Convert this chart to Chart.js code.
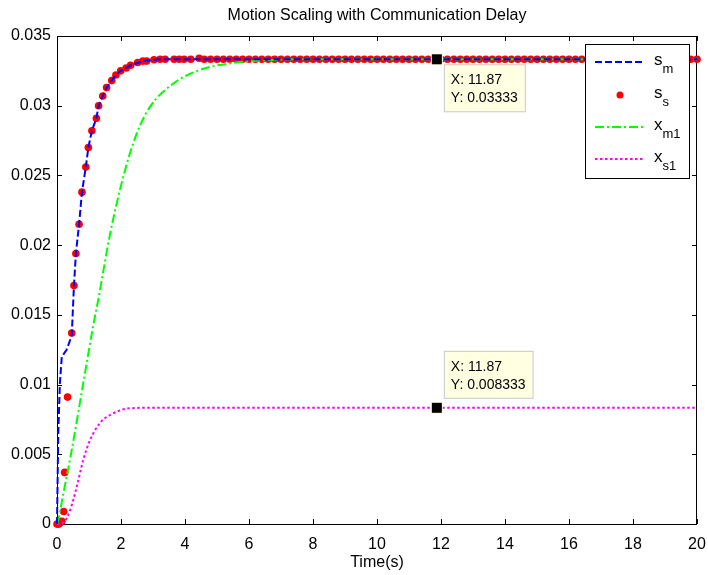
<!DOCTYPE html>
<html>
<head>
<meta charset="utf-8">
<script src="https://cdn.jsdelivr.net/npm/chart.js@4/dist/chart.umd.min.js"></script>
<style>
  html, body { margin: 0; padding: 0; background: #fff; }
  canvas { display: block; }
</style>
</head>
<body>
<canvas id="chart" width="708" height="575"></canvas>
<script>
const FONT = "'Liberation Sans', Arial, sans-serif";

// axis ticks
const xTicks = [0, 2, 4, 6, 8, 10, 12, 14, 16, 18, 20];
const yTicks = [0, 0.005, 0.01, 0.015, 0.02, 0.025, 0.03, 0.035];

// s_m (blue dashed)
const smTime = [0, 0.01, 0.04, 0.09, 0.15, 0.3, 0.46, 0.53, 0.59, 0.69, 0.78, 0.9, 0.98, 1.09, 1.23,
  1.3, 1.43, 1.55, 1.71, 1.84, 1.99, 2.3, 2.68, 3.2, 20];
const smValue = [0, 0.0017, 0.0065, 0.0101, 0.012, 0.0125, 0.0135, 0.0171, 0.0194, 0.0215, 0.0238, 0.0256, 0.027, 0.0282, 0.0291,
  0.03, 0.0307, 0.0313, 0.0318, 0.0322, 0.0325, 0.0329, 0.0332, 0.03333, 0.03333];

// s_s (red dots)
const ssTime = [0, 0.03, 0.06, 0.1, 0.15, 0.21, 0.24, 0.33, 0.46, 0.53, 0.59, 0.69, 0.78, 0.9, 0.98, 1.09,
  1.23, 1.3, 1.43, 1.55, 1.71, 1.84, 1.99, 2.16, 2.3, 2.52, 2.68, 2.8, 3.03, 3.22, 3.38, 3.66, 3.82, 3.97,
  4.18, 4.44,
  4.6, 4.8, 5.0, 5.2, 5.4, 5.6, 5.8, 6.0, 6.2, 6.4, 6.6, 6.8, 7.0,
  7.2, 7.4, 7.6, 7.8, 8.0, 8.2, 8.4, 8.6, 8.8, 9.0, 9.2, 9.4, 9.6,
  9.8, 10.0, 10.2, 10.4, 10.6, 10.8, 11.0, 11.2, 11.4, 11.6, 11.8, 12.0, 12.2,
  12.4, 12.6, 12.8, 13.0, 13.2, 13.4, 13.6, 13.8, 14.0, 14.2, 14.4, 14.6, 14.8,
  15.0, 15.2, 15.4, 15.6, 15.8, 16.0, 16.2, 16.4, 16.6, 16.8, 17.0, 17.2, 17.4,
  17.6, 17.8, 18.0, 18.2, 18.4, 18.6, 18.8, 19.0, 19.2, 19.4, 19.6, 19.8, 20.0];
const ssValue = [0, 0, 0, 0.0001, 0.0002, 0.0009, 0.0037, 0.0091, 0.0137, 0.0171, 0.0194, 0.0215, 0.0238, 0.0256, 0.027, 0.0282,
  0.0291, 0.03, 0.0307, 0.0313, 0.0318, 0.0322, 0.0325, 0.0327, 0.0329, 0.0331, 0.0332, 0.0332, 0.0333, 0.03333, 0.03333, 0.03333, 0.03333, 0.03333,
  0.03333, 0.0334,
  0.03333, 0.03333, 0.03333, 0.03333, 0.03333, 0.03333, 0.03333, 0.03333, 0.03333, 0.03333, 0.03333, 0.03333, 0.03333,
  0.03333, 0.03333, 0.03333, 0.03333, 0.03333, 0.03333, 0.03333, 0.03333, 0.03333, 0.03333, 0.03333, 0.03333, 0.03333,
  0.03333, 0.03333, 0.03333, 0.03333, 0.03333, 0.03333, 0.03333, 0.03333, 0.03333, 0.03333, 0.03333, 0.03333, 0.03333,
  0.03333, 0.03333, 0.03333, 0.03333, 0.03333, 0.03333, 0.03333, 0.03333, 0.03333, 0.03333, 0.03333, 0.03333, 0.03333,
  0.03333, 0.03333, 0.03333, 0.03333, 0.03333, 0.03333, 0.03333, 0.03333, 0.03333, 0.03333, 0.03333, 0.03333, 0.03333,
  0.03333, 0.03333, 0.03333, 0.03333, 0.03333, 0.03333, 0.03333, 0.03333, 0.03333, 0.03333, 0.03333, 0.03333, 0.03333];

// x_m1 (green dash-dot)
const xm1Time = [0, 0.04, 0.2, 0.46, 0.82, 1.13, 1.29, 1.65, 2.07, 2.49, 2.9, 3.64, 4.47, 5.61, 6.5, 7.6, 20];
const xm1Value = [0, 0.0003, 0.0022, 0.0053, 0.0101, 0.0142, 0.0161, 0.0207, 0.0249, 0.028, 0.0299, 0.0316, 0.03257, 0.0331, 0.03325, 0.03333, 0.03333];

// x_s1 (magenta dotted)
const xs1Time = [0, 0.2, 0.41, 0.62, 0.82, 1.03, 1.34, 1.76, 2.28, 2.9, 20];
const xs1Value = [0, 0.0001, 0.001, 0.0027, 0.0046, 0.006, 0.00724, 0.00794, 0.0083, 0.008333, 0.008333];

// data tips
const tipX = [11.87, 11.87];
const tipY = [0.03333, 0.008333];
const tipLabels = [["X: 11.87", "Y: 0.03333"], ["X: 11.87", "Y: 0.008333"]];

const pts = (ts, vs) => ts.map((t, i) => ({ x: t, y: vs[i] }));

const legendItems = [
  { base: "s", sub: "m", color: "#0000ff", dash: [7, 3], kind: "line" },
  { base: "s", sub: "s", color: "#ff0000", dash: [], kind: "dot" },
  { base: "x", sub: "m1", color: "#00ff00", dash: [9, 3, 2, 3], kind: "line" },
  { base: "x", sub: "s1", color: "#ff00ff", dash: [2.5, 2.5], kind: "line" },
];

const frame = {
  id: "frame",
  beforeDatasetsDraw(chart) {
    const { ctx, chartArea: a, scales: { x, y } } = chart;
    ctx.save();
    ctx.strokeStyle = "#000";
    ctx.lineWidth = 1;
    ctx.strokeRect(a.left + 0.5, a.top + 0.5, a.right - a.left - 1, a.bottom - a.top);
    ctx.beginPath();
    xTicks.forEach((v) => {
      const px = Math.round(x.getPixelForValue(v)) + 0.5;
      ctx.moveTo(px, a.bottom); ctx.lineTo(px, a.bottom - 5);
      ctx.moveTo(px, a.top); ctx.lineTo(px, a.top + 5);
    });
    yTicks.forEach((v) => {
      const py = Math.round(y.getPixelForValue(v)) + 0.5;
      ctx.moveTo(a.left, py); ctx.lineTo(a.left + 5, py);
      ctx.moveTo(a.right, py); ctx.lineTo(a.right - 5, py);
    });
    ctx.stroke();
    ctx.restore();
  },
  afterDraw(chart) {
    const { ctx, chartArea: a, scales: { x, y } } = chart;
    ctx.save();
    // title and x label
    ctx.fillStyle = "#000";
    ctx.textAlign = "center";
    ctx.textBaseline = "middle";
    ctx.font = "16px " + FONT;
    ctx.fillText("Motion Scaling with Communication Delay", (a.left + a.right) / 2, 16);
    ctx.fillText("Time(s)", (a.left + a.right) / 2, 563);

    // data tips
    tipX.forEach((tx, i) => {
      const px = x.getPixelForValue(tx);
      const py = y.getPixelForValue(tipY[i]);
      ctx.font = "14px " + FONT;
      const w = Math.max(...tipLabels[i].map((s) => ctx.measureText(s).width)) + 14;
      const h = 47;
      const bx = px + 7;
      const by = i === 0 ? py + 5 : py - 10 - h;
      ctx.fillStyle = "#ffffe1";
      ctx.strokeStyle = "#c8c8c8";
      ctx.lineWidth = 1;
      ctx.fillRect(bx, by, w, h);
      ctx.strokeRect(bx + 0.5, by + 0.5, w, h);
      ctx.fillStyle = "#000";
      ctx.textAlign = "left";
      ctx.textBaseline = "middle";
      ctx.fillText(tipLabels[i][0], bx + 7, by + 16);
      ctx.fillText(tipLabels[i][1], bx + 7, by + 34);
      ctx.fillStyle = "#ffffe1";
      ctx.fillRect(px - 6, py - 6, 12, 12);
      ctx.fillStyle = "#000";
      ctx.fillRect(px - 5, py - 5, 10, 10);
    });

    // legend
    const lw = 104, lh = 134;
    const lx = a.right - 8 - lw, ly = a.top + 8;
    ctx.fillStyle = "#fff";
    ctx.fillRect(lx, ly, lw, lh);
    ctx.strokeStyle = "#000";
    ctx.lineWidth = 1;
    ctx.strokeRect(lx + 0.5, ly + 0.5, lw, lh);
    const rowY = [18, 51, 83, 115];
    legendItems.forEach((it, i) => {
      const cy = ly + rowY[i];
      if (it.kind === "dot") {
        ctx.fillStyle = it.color;
        ctx.beginPath();
        ctx.arc(lx + 35, cy, 3.5, 0, Math.PI * 2);
        ctx.fill();
      } else {
        ctx.strokeStyle = it.color;
        ctx.lineWidth = 2;
        ctx.setLineDash(it.dash);
        ctx.beginPath();
        ctx.moveTo(lx + 10, cy);
        ctx.lineTo(lx + 60, cy);
        ctx.stroke();
        ctx.setLineDash([]);
      }
      ctx.fillStyle = "#000";
      ctx.textAlign = "left";
      ctx.textBaseline = "alphabetic";
      ctx.font = "17px " + FONT;
      ctx.fillText(it.base, lx + 69, cy + 3);
      const bw = ctx.measureText(it.base).width;
      ctx.font = "13px " + FONT;
      ctx.fillText(it.sub, lx + 69 + bw, cy + 11);
    });
    ctx.restore();
  },
};

new Chart(document.getElementById("chart"), {
  type: "line",
  data: {
    datasets: [
      {
        label: "s_m",
        data: pts(smTime, smValue),
        borderColor: "#0000ff",
        borderWidth: 2,
        borderDash: [7, 3],
        pointRadius: 0,
        tension: 0,
        clip: false,
      },
      {
        label: "x_m1",
        data: pts(xm1Time, xm1Value),
        borderColor: "#00ff00",
        borderWidth: 2,
        borderDash: [9, 3, 2, 3],
        pointRadius: 0,
        cubicInterpolationMode: "monotone",
        clip: false,
      },
      {
        label: "x_s1",
        data: pts(xs1Time, xs1Value),
        borderColor: "#ff00ff",
        borderWidth: 2,
        borderDash: [2.5, 2.5],
        pointRadius: 0,
        cubicInterpolationMode: "monotone",
        clip: false,
      },
      {
        label: "s_s",
        data: pts(ssTime, ssValue),
        showLine: false,
        pointRadius: 3.8,
        pointBorderWidth: 0,
        pointBackgroundColor: "#ff0000",
        pointBorderColor: "#ff0000",
        clip: false,
      },
    ],
  },
  options: {
    responsive: false,
    animation: false,
    layout: { padding: { top: 36, right: 11, left: 0, bottom: 0 } },
    plugins: { legend: { display: false }, tooltip: { enabled: false } },
    scales: {
      x: {
        type: "linear",
        min: 0,
        max: 20,
        afterBuildTicks: (s) => { s.ticks = xTicks.map((v) => ({ value: v })); },
        afterFit: (s) => { s.height = 51; s.paddingLeft = 0; s.paddingRight = 0; },
        ticks: { color: "#000", font: { family: FONT, size: 16 }, padding: 11, maxRotation: 0, autoSkip: false },
        grid: { display: false, drawTicks: false },
        border: { display: false },
      },
      y: {
        min: 0,
        max: 0.035,
        afterBuildTicks: (s) => { s.ticks = yTicks.map((v) => ({ value: v })); },
        afterFit: (s) => { s.width = 57; s.paddingTop = 0; s.paddingBottom = 0; },
        ticks: {
          color: "#000",
          font: { family: FONT, size: 16 },
          padding: 6,
          callback: (v) => String(+Number(v).toFixed(3)),
        },
        grid: { display: false, drawTicks: false },
        border: { display: false },
      },
    },
  },
  plugins: [frame],
});
</script>
</body>
</html>
